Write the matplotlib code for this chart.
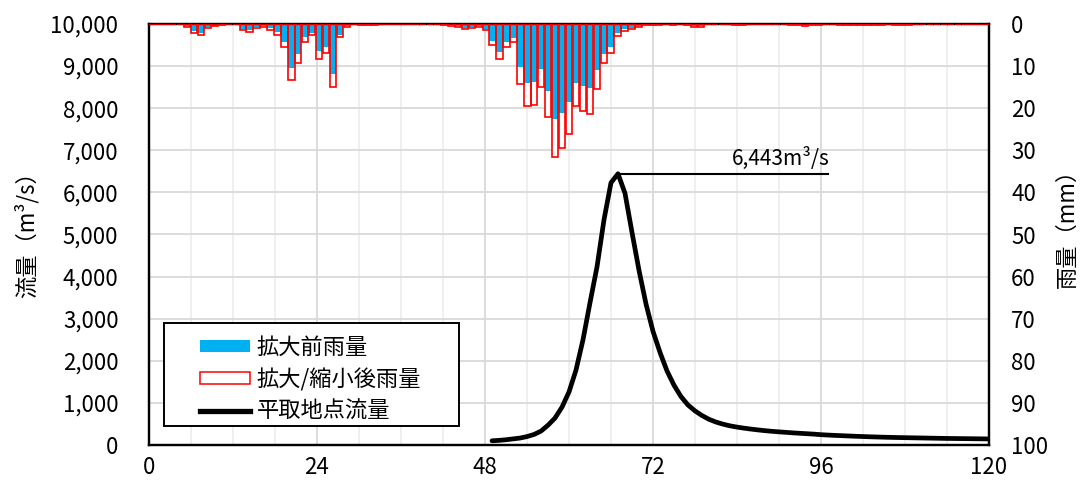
import matplotlib
matplotlib.use("Agg")
import matplotlib.pyplot as plt
from matplotlib.patches import Patch, Rectangle
from matplotlib.lines import Line2D
import numpy as np

plt.rcParams['font.family'] = ['Noto Sans CJK JP', 'DejaVu Sans']

# ---- data ----
# hourly rainfall (mm), index = hour 0..120
rain_after = [0, 0, 0, 0, 0, 0.7, 2.1, 2.7, 1.0, 0.5,
              0.3, 0.1, 0, 1.5, 1.8, 1.0, 0.7, 1.35, 2.6, 5.5,
              13.3, 9.3, 4.3, 2.6, 8.2, 7.0, 14.9, 3.2, 0.7, 0,
              0.3, 0.3, 0.2, 0, 0, 0, 0, 0, 0, 0,
              0, 0, 0.2, 0.4, 0.6, 1.3, 1.0, 0.7, 1.4, 5.1,
              8.3, 5.5, 4.2, 14.3, 19.4, 19.2, 14.9, 22.1, 31.5, 29.4,
              26.1, 19.4, 20.6, 21.4, 15.4, 9.3, 6.8, 2.9, 1.7, 1.3,
              0.6, 0.3, 0.2, 0.2, 0.1, 0.2, 0.1, 0.2, 0.6, 0.6,
              0.1, 0.1, 0.1, 0.1, 0.3, 0.3, 0, 0, 0, 0,
              0, 0, 0.2, 0.2, 0.4, 0.2, 0.2, 0, 0, 0.2,
              0.2, 0.2, 0.2, 0.2, 0.2, 0.2, 0, 0.2, 0.2, 0.2,
              0, 0, 0, 0, 0, 0, 0, 0, 0, 0, 0]
rain_before = [0, 0, 0, 0, 0, 0.5, 1.6, 2.1, 0.8, 0.4,
               0.2, 0.1, 0, 1.2, 1.4, 0.8, 0.5, 1.0, 2.0, 4.2,
               10.5, 7.2, 3.2, 2.1, 6.3, 5.4, 11.9, 2.5, 0.5, 0,
               0.2, 0.2, 0.1, 0, 0, 0, 0, 0, 0, 0,
               0, 0, 0.1, 0.3, 0.5, 0.9, 0.8, 0.5, 1.1, 4.0,
               6.6, 4.2, 3.4, 10.1, 13.9, 13.7, 10.7, 15.9, 22.6, 21.1,
               18.6, 14.0, 14.7, 15.3, 10.9, 7.2, 5.4, 2.2, 1.3, 1.0,
               0.4, 0.2, 0.1, 0.1, 0.1, 0.1, 0.1, 0.1, 0.5, 0.5,
               0.1, 0.1, 0.1, 0.1, 0.2, 0.2, 0, 0, 0, 0,
               0, 0, 0.1, 0.1, 0.3, 0.1, 0.1, 0, 0, 0.1,
               0.1, 0.1, 0.1, 0.1, 0.1, 0.1, 0, 0.1, 0.1, 0.1,
               0, 0, 0, 0, 0, 0, 0, 0, 0, 0, 0]

flow_hours = list(range(49, 121))
flow = [100, 110, 125, 145, 165, 200, 250, 330, 470, 640,
        900, 1260, 1780, 2500, 3380, 4230, 5350, 6230, 6443, 5980,
        5050, 4150, 3350, 2700, 2200, 1760, 1420, 1150, 950, 810,
        700, 610, 545, 495, 455, 425, 400, 378, 358, 340,
        325, 312, 300, 288, 278, 268, 258, 245, 236, 228,
        221, 214, 207, 201, 195, 190, 185, 181, 177, 174,
        171, 168, 165, 162, 159, 156, 154, 152, 150, 148,
        146, 144]

peak_value = 6443
peak_hour = 67
peak_label = "6,443m³/s"

x_ticks = [0, 24, 48, 72, 96, 120]
labels = ["拡大前雨量", "拡大/縮小後雨量", "平取地点流量"]
ylabel_left = "流量（m³/s）"
ylabel_right = "雨量（mm）"

# ---- figure ----
W, H = 1083, 480
fig = plt.figure(figsize=(W / 100, H / 100), dpi=100)
ax = fig.add_axes([149 / W, 1 - 445 / H, 840 / W, 421 / H])
ax2 = ax.twinx()

# flow axis
ax.set_xlim(0, 120)
ax.set_ylim(0, 10000)
ax.set_yticks(np.arange(0, 10001, 1000))
ax.set_yticklabels([f"{v:,}" for v in range(0, 10001, 1000)])
ax.set_xticks(x_ticks)
ax.set_xticks(np.arange(0, 121, 6), minor=True)
ax.grid(True, which='major', axis='both', color='#d9d9d9', lw=1.3, zorder=0)
ax.grid(True, which='minor', axis='x', color='#eeeeee', lw=1.3, zorder=0)
ax.set_axisbelow(True)
ax.tick_params(axis='both', which='both', length=0, labelsize=16)
ax.tick_params(axis='y', pad=22)
ax.tick_params(axis='x', pad=8)

ax.plot(flow_hours, flow, color='black', lw=3.4, solid_capstyle='round',
        solid_joinstyle='round', zorder=5)
ax.plot([peak_hour, 97], [peak_value, peak_value], color='black', lw=1.5, zorder=5)
ax.text(97.3, peak_value + 100, peak_label, ha='right', va='bottom', fontsize=15)

fig.text(26 / W, 1 - 229 / H, ylabel_left, rotation=90, ha='center', va='center', fontsize=16)
fig.text(1067 / W, 1 - 223 / H, ylabel_right, rotation=90, ha='center', va='center', fontsize=16)

# rain axis (inverted)
n = len(rain_after)
step = 120 / n
xpos = (np.arange(n) + 0.5) * step
w = step * 0.92
ax2.bar(xpos, rain_after, width=w, color='white', edgecolor='none', zorder=1)
ax2.bar(xpos, rain_before, width=w, color='#00b0f0', edgecolor='none', zorder=2)
ax2.bar(xpos, rain_after, width=w, facecolor='none', edgecolor='#ff0000', lw=1.2, zorder=3)
ax2.set_ylim(100, 0)
ax2.set_yticks(np.arange(0, 101, 10))
ax2.tick_params(axis='y', length=0, labelsize=16, pad=16)

for a in (ax, ax2):
    for s in a.spines.values():
        s.set_color('black')
        s.set_linewidth(1.6)

# legend frame
ax2.add_patch(Rectangle((15 / 840, 19 / 421), 295 / 840, 103 / 421, transform=ax2.transAxes,
                        facecolor='white', edgecolor='black', lw=1.4, zorder=6))
handles = [Patch(facecolor='#00b0f0', edgecolor='none'),
           Patch(facecolor='white', edgecolor='#ff0000', lw=1.1),
           Line2D([], [], color='black', lw=3.8)]
leg = ax2.legend(handles, labels, loc='upper left',
                 bbox_to_anchor=(51 / 840, (445 - 336) / 421), borderaxespad=0,
                 fontsize=16, frameon=False, borderpad=0,
                 handlelength=2.25, handleheight=0.45,
                 handletextpad=0.3, labelspacing=0.4)
leg.set_zorder(7)

fig.savefig("out.png", dpi=100)
